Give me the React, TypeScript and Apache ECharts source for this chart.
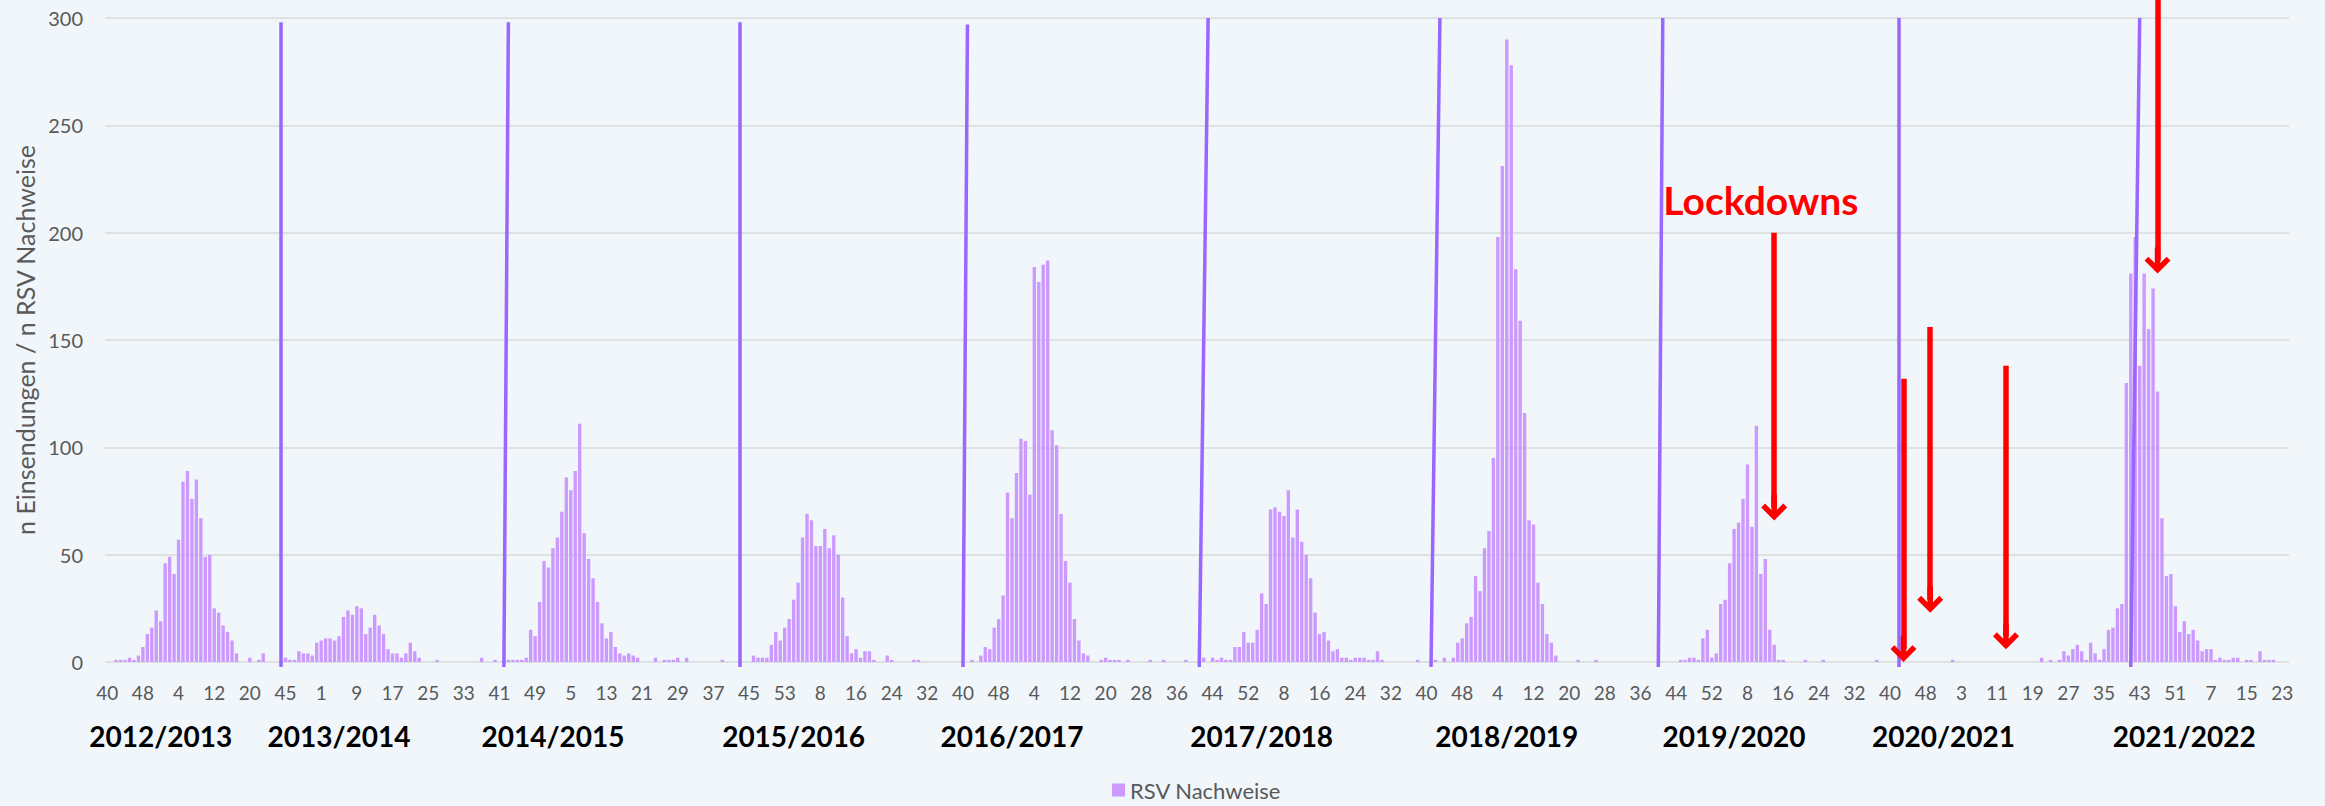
import React, { useEffect, useRef } from 'react';
import * as echarts from 'echarts';

// ---- data: weekly RSV detections, one array per calendar-year segment ----
const rsv2012 = [0, 0, 1, 1, 1, 2, 1, 3, 7, 13, 16, 24, 19];
const rsv2013a = [46, 49, 41, 57, 84, 89, 76, 85, 67, 49, 50, 25, 23, 17, 14, 10, 4, 0, 0, 2, 0, 1];
const rsv2013b = [4, 0, 0, 0, 0, 2, 1, 1, 5, 4, 4, 3, 9];
const rsv2014 = [10, 11, 11, 10, 12, 21, 24, 22, 26, 25, 13, 16, 22, 17, 13, 6, 4, 4, 2, 4, 9, 5, 2, 0, 0, 0, 1, 0, 0, 0, 0, 0, 0, 0, 0, 0, 2, 0, 0, 1, 0, 0, 1, 1, 1, 1, 2, 15, 12, 28, 47, 44];
const rsv2015 = [53, 58, 70, 86, 80, 89, 111, 60, 48, 39, 28, 18, 11, 14, 7, 4, 3, 4, 3, 2, 0, 0, 0, 2, 0, 1, 1, 1, 2, 0, 2, 0, 0, 0, 0, 0, 0, 0, 1, 0, 0, 0, 0, 0, 0, 3, 2, 2, 2, 8, 14, 10, 16];
const rsv2016 = [20, 29, 37, 58, 69, 66, 54, 54, 62, 53, 59, 50, 30, 12, 4, 6, 2, 5, 5, 1, 0, 0, 3, 1, 0, 0, 0, 0, 1, 1, 0, 0, 0, 0, 0, 0, 0, 0, 0, 0, 0, 1, 0, 3, 7, 6, 16, 20, 31, 79, 67, 88];
const rsv2017 = [104, 103, 78, 184, 177, 185, 187, 108, 101, 69, 47, 37, 20, 10, 4, 3, 0, 0, 1, 2, 1, 1, 1, 0, 1, 0, 0, 0, 0, 1, 0, 0, 1, 0, 0, 0, 0, 1, 0, 0, 0, 2, 0, 2, 1, 2, 1, 1, 7, 7, 14, 9];
const rsv2018 = [9, 15, 32, 27, 71, 72, 70, 68, 80, 58, 71, 56, 50, 39, 23, 13, 14, 10, 5, 6, 2, 2, 1, 2, 2, 2, 1, 1, 5, 1, 0, 0, 0, 0, 0, 0, 0, 1, 0, 0, 0, 1, 0, 2, 0, 2, 9, 11, 18, 21, 40, 33];
const rsv2019 = [53, 61, 95, 198, 231, 290, 278, 183, 159, 116, 66, 64, 37, 27, 13, 9, 3, 0, 0, 0, 0, 1, 0, 0, 0, 1, 0, 0, 0, 0, 0, 0, 0, 0, 0, 0, 0, 0, 0, 0, 0, 0, 0, 0, 1, 1, 2, 2, 1, 11, 15, 2];
const rsv2020 = [4, 27, 29, 46, 62, 65, 76, 92, 63, 110, 41, 48, 15, 8, 1, 1, 0, 0, 0, 0, 1, 0, 0, 0, 1, 0, 0, 0, 0, 0, 0, 0, 0, 0, 0, 0, 1, 0, 0, 0, 0, 0, 0, 0, 0, 0, 0, 0, 0, 0, 0, 0, 0];
const rsv2021 = [1, 0, 0, 0, 0, 0, 0, 0, 0, 0, 0, 0, 0, 0, 0, 0, 0, 0, 0, 0, 2, 0, 1, 0, 1, 5, 3, 6, 8, 5, 1, 9, 4, 1, 6, 15, 16, 25, 27, 130, 181, 198, 138, 181, 155, 174, 126, 67, 40, 41, 26, 14];
const rsv2022 = [19, 13, 15, 10, 5, 6, 6, 1, 2, 1, 1, 2, 2, 0, 1, 1, 0, 5, 1, 1, 1, 0, 0, 0];

// calendar segments: year, first ISO week, values
const segments = [
  { year: 2012, firstWeek: 40, values: rsv2012 },
  { year: 2013, firstWeek: 1, values: rsv2013a },
  { year: 2013, firstWeek: 40, values: rsv2013b },
  { year: 2014, firstWeek: 1, values: rsv2014 },
  { year: 2015, firstWeek: 1, values: rsv2015 },
  { year: 2016, firstWeek: 1, values: rsv2016 },
  { year: 2017, firstWeek: 1, values: rsv2017 },
  { year: 2018, firstWeek: 1, values: rsv2018 },
  { year: 2019, firstWeek: 1, values: rsv2019 },
  { year: 2020, firstWeek: 1, values: rsv2020 },
  { year: 2021, firstWeek: 1, values: rsv2021 },
  { year: 2022, firstWeek: 1, values: rsv2022 },
];

// season captions under the axis (anchored to a category)
const seasonNames = ['2012/2013', '2013/2014', '2014/2015', '2015/2016', '2016/2017', '2017/2018', '2018/2019', '2019/2020', '2020/2021', '2021/2022'];
const seasonAnchors = ['2012-W52', '2014-W5', '2015-W1', '2016-W2', '2016-W51', '2018-W3', '2019-W6', '2020-W5', '2020-W52', '2022-W1'];

// hand-drawn season separators: [bottom category, top category, top value]
const separators: [string, string, number][] = [
  ['2013-W44', '2013-W44', 298],
  ['2014-W42', '2014-W43', 298],
  ['2015-W43', '2015-W43', 298],
  ['2016-W40', '2016-W41', 297],
  ['2017-W41', '2017-W43', 300],
  ['2018-W41', '2018-W43', 300],
  ['2019-W40', '2019-W41', 300],
  ['2020-W42', '2020-W42', 300],
  ['2021-W41', '2021-W43', 300],
];

// red "lockdown" arrows: [category, start value, end value]
const arrows: [string, number, number][] = [
  ['2020-W14', 200, 72],
  ['2020-W43', 132, 6],
  ['2020-W49', 156, 29],
  ['2021-W13', 138, 12],
  ['2021-W47', 300, 187],
];
const lockdownLabel = { text: 'Lockdowns', at: '2020-W11', value: 215 };

const categories: string[] = [];
const values: number[] = [];
segments.forEach((s) => {
  s.values.forEach((v, k) => {
    categories.push(`${s.year}-W${s.firstWeek + k}`);
    values.push(v);
  });
});
const seasonAxisData = categories.map((c) => {
  const j = seasonAnchors.indexOf(c);
  return j >= 0 ? seasonNames[j] : '';
});
const idx = (c: string) => categories.indexOf(c);

const PURPLE = '#9966ff';
const RED = '#ff0000';
const FONT = 'Lato';
const ARROW_HEAD = 'path://M0,0 L13,13 L9.1,16.9 L2.75,10.55 L2.75,26 L-2.75,26 L-2.75,10.55 L-9.1,16.9 L-13,13 Z';

function baseOption(): any {
  return {
    animation: false,
    backgroundColor: '#f1f6fb',
    textStyle: { fontFamily: FONT },
    grid: { left: 105, right: 36, top: 18, bottom: 144, containLabel: false },
    legend: {
      data: ['RSV Nachweise'],
      left: 1107,
      top: 774,
      icon: 'rect',
      itemWidth: 13,
      itemHeight: 13,
      textStyle: { color: '#595959', fontSize: 22, fontFamily: FONT },
    },
    xAxis: [
      {
        type: 'category',
        data: categories,
        position: 'bottom',
        axisLine: { show: false },
        axisTick: { show: false },
        axisLabel: {
          interval: 7,
          margin: 21,
          color: '#595959',
          fontSize: 19,
          fontFamily: FONT,
          formatter: (v: string) => v.split('-W')[1],
        },
      },
      {
        type: 'category',
        data: seasonAxisData,
        position: 'bottom',
        axisLine: { show: false },
        axisTick: { show: false },
        axisLabel: {
          interval: 0,
          margin: 60,
          color: '#000000',
          fontSize: 28,
          fontWeight: 'bold',
          fontFamily: FONT,
        },
      },
    ],
    yAxis: {
      type: 'value',
      min: 0,
      max: 300,
      interval: 50,
      name: 'n Einsendungen / n RSV Nachweise',
      nameLocation: 'middle',
      nameGap: 62,
      nameTextStyle: { color: '#595959', fontSize: 25, fontFamily: FONT },
      axisLine: { show: false },
      axisTick: { show: false },
      axisLabel: { color: '#595959', fontSize: 20, margin: 22, fontFamily: FONT },
      splitLine: { lineStyle: { color: '#d9d9d9', width: 1.5 } },
    },
    series: [
      {
        id: 'rsv',
        name: 'RSV Nachweise',
        type: 'bar',
        data: values,
        barCategoryGap: '24%',
        itemStyle: { color: '#cc99ff' },
        silent: true,
      },
    ],
  };
}

export default function App() {
  const ref = useRef<HTMLDivElement>(null);
  useEffect(() => {
    document.body.style.margin = '0';
    const chart = echarts.init(ref.current as HTMLDivElement, null, { renderer: 'svg' });
    chart.setOption(baseOption());
    const toPx = (c: string, v: number) => chart.convertToPixel({ seriesIndex: 0 }, [idx(c), v]) as number[];

    const sepLines = separators.map(([b, t, tv]) => {
      const p = toPx(b, 0);
      return [{ x: p[0], y: p[1] + 5 }, { coord: [idx(t), tv] }];
    });
    const arrowLines = arrows.map(([c, from, to], k) => {
      const start: any =
        k === arrows.length - 1
          ? { x: toPx(c, from)[0], y: 0 }
          : { coord: [idx(c), from] };
      start.lineStyle = { color: RED, width: 5.5, type: 'solid' };
      return [start, { coord: [idx(c), to], symbol: ARROW_HEAD, symbolSize: [26, 26] }];
    });

    chart.setOption({
      series: [
        {
          id: 'rsv',
          markLine: {
            silent: true,
            symbol: ['none', 'none'],
            label: { show: false },
            emphasis: { disabled: true },
            lineStyle: { color: PURPLE, width: 3.5, type: 'solid' },
            data: [...sepLines, ...arrowLines],
          },
          markPoint: {
            silent: true,
            symbol: 'rect',
            symbolSize: 1,
            itemStyle: { color: 'rgba(0,0,0,0)' },
            label: {
              show: true,
              position: 'inside',
              formatter: lockdownLabel.text,
              color: RED,
              fontSize: 39,
              fontWeight: 'bold',
              fontFamily: FONT,
            },
            data: [{ coord: [idx(lockdownLabel.at), lockdownLabel.value] }],
          },
        },
      ],
    });
    return () => chart.dispose();
  }, []);
  return <div ref={ref} style={{ width: 2325, height: 806 }} />;
}
